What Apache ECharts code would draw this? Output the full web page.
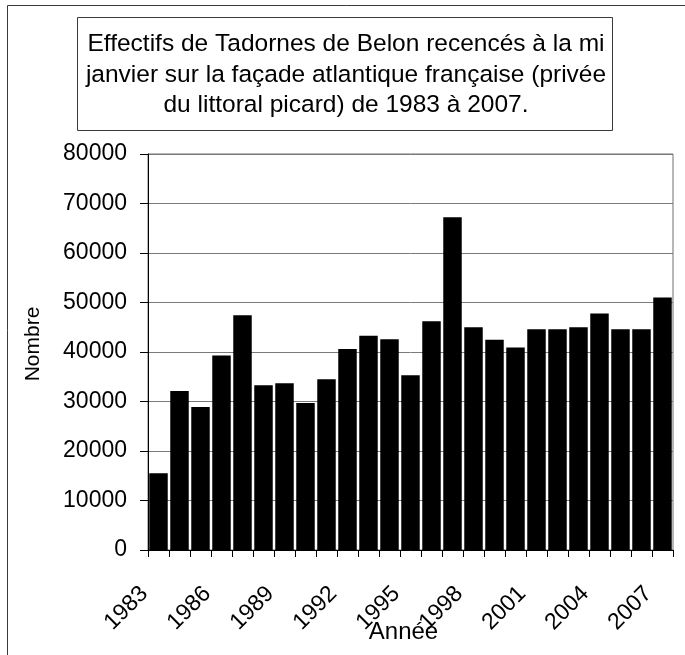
<!DOCTYPE html>
<html>
<head>
<meta charset="utf-8">
<script src="https://cdn.jsdelivr.net/npm/echarts@6/dist/echarts.min.js"></script>
<style>
  html, body { margin: 0; padding: 0; background: #fff; }
  #chart { width: 685px; height: 655px; }
</style>
</head>
<body>
<div id="chart"></div>
<script>
// Wintering Shelduck counts, mid-January, French Atlantic coast
const years = ['1983','1984','1985','1986','1987','1988','1989','1990','1991','1992',
               '1993','1994','1995','1996','1997','1998','1999','2000','2001','2002',
               '2003','2004','2005','2006','2007'];
const counts = [15500, 32100, 28900, 39300, 47400, 33300, 33700, 29700, 34500, 40600,
                43300, 42600, 35300, 46200, 67200, 45000, 42500, 40900, 44600, 44600,
                45000, 47800, 44600, 44600, 51000];
const yTicks = [0, 10000, 20000, 30000, 40000, 50000, 60000, 70000, 80000];
const titleLines = [
  'Effectifs de Tadornes de Belon recencés à la mi',
  'janvier sur la façade atlantique française (privée',
  'du littoral picard) de 1983 à 2007.'
];

const FONT = "'Liberation Sans', Arial, sans-serif";
const chart = echarts.init(document.getElementById('chart'), null, { renderer: 'canvas' });

chart.setOption({
  animation: false,
  backgroundColor: '#ffffff',
  graphic: [
    {
      type: 'rect',
      shape: { x: 7.5, y: 5.5, width: 720, height: 720 },
      style: { fill: 'none', stroke: '#3a3a3a', lineWidth: 1 },
      silent: true
    },
    {
      type: 'rect',
      shape: { x: 77.5, y: 17.5, width: 535, height: 113 },
      style: { fill: '#ffffff', stroke: '#3a3a3a', lineWidth: 1 },
      silent: true
    },
    {
      type: 'text',
      x: 346, y: 75,
      style: {
        text: titleLines.join('\n'),
        font: '24.5px ' + FONT,
        fill: '#000',
        align: 'center',
        verticalAlign: 'middle',
        lineHeight: 30.5
      },
      silent: true
    }
  ],
  grid: {
    left: 148, right: 12, top: 154, bottom: 105,
    show: true, borderColor: '#6e6e6e', borderWidth: 1,
    containLabel: false,
    outerBoundsMode: 'none'
  },
  xAxis: {
    type: 'category',
    data: years,
    name: 'Année',
    nameLocation: 'middle',
    nameGap: 70,
    nameMoveOverlap: false,
    nameTextStyle: { fontFamily: FONT, fontSize: 24, color: '#000', padding: [0, 14, 0, 0] },
    axisLine: { lineStyle: { color: '#000', width: 1 } },
    axisTick: { show: true, interval: 0, length: 7, lineStyle: { color: '#000' } },
    axisLabel: {
      interval: 2,
      rotate: 45,
      margin: 26,
      padding: [0, 20, 0, 0],
      fontFamily: FONT,
      fontSize: 23,
      color: '#000'
    },
    splitLine: { show: false }
  },
  yAxis: {
    type: 'value',
    min: yTicks[0],
    max: yTicks[yTicks.length - 1],
    interval: yTicks[1] - yTicks[0],
    name: 'Nombre',
    nameLocation: 'middle',
    nameGap: 104,
    nameMoveOverlap: false,
    nameTextStyle: { fontFamily: FONT, fontSize: 21, color: '#000', padding: [0, 0, 0, 16] },
    axisLine: { show: true, lineStyle: { color: '#000', width: 1 } },
    axisTick: { show: true, length: 8, lineStyle: { color: '#000' } },
    axisLabel: {
      margin: 21,
      fontFamily: FONT,
      fontSize: 23,
      color: '#000',
      formatter: v => String(v)
    },
    splitLine: { show: true, lineStyle: { color: '#7a7a7a', width: 1 } }
  },
  series: [{
    type: 'bar',
    data: counts,
    barCategoryGap: '12%',
    itemStyle: { color: '#000' }
  }]
});
</script>
</body>
</html>
